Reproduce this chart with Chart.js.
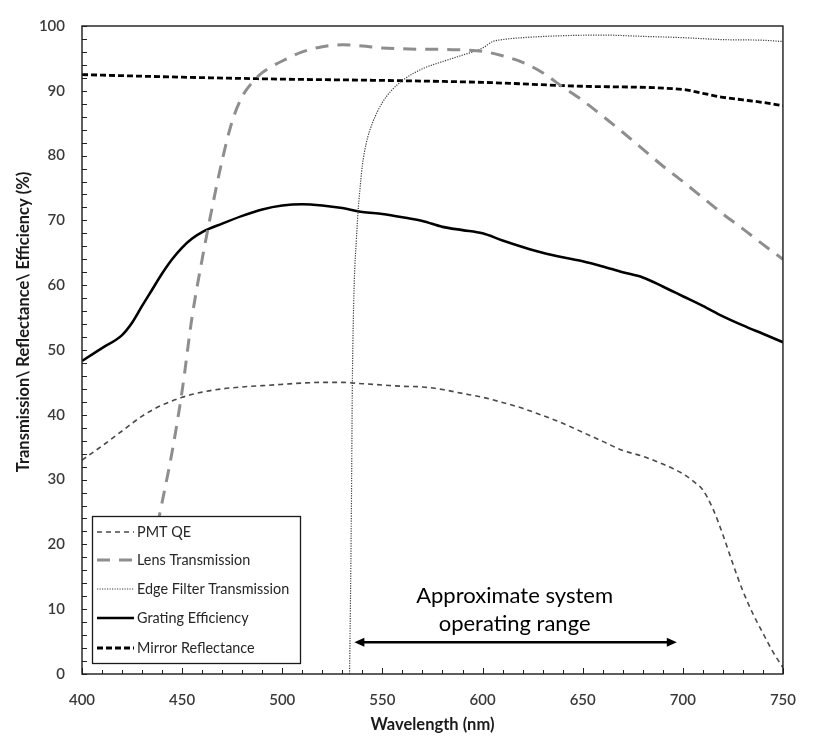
<!DOCTYPE html>
<html><head><meta charset="utf-8">
<script src="https://cdn.jsdelivr.net/npm/chart.js@4/dist/chart.umd.min.js"></script>
<style>html,body{margin:0;padding:0;background:#fff}#wrap{width:813px;height:740px;position:relative}</style>
</head><body><div id="wrap"><canvas id="c" width="813" height="740"></canvas></div>
<script>
// ---------- DATA ----------
const seriesNames = ['PMT QE', 'Lens Transmission', 'Edge Filter Transmission', 'Grating Efficiency', 'Mirror Reflectance'];

const pmtWl = [400,410,420,430,440,450,460,470,480,490,500,510,520,530,540,550,560,570,580,590,600,610,620,630,640,650,660,670,680,690,700,705,710,715,720,725,730,735,740,745,750];
const pmtQE = [33,35.2,37.5,39.8,41.5,42.7,43.5,44,44.3,44.5,44.7,44.9,45,45,44.8,44.6,44.4,44.3,43.9,43.3,42.7,41.9,41,39.9,38.7,37.3,35.9,34.5,33.6,32.4,30.9,29.8,28.4,25.5,21.5,17,12.8,9.3,6.3,3.4,1.0];

const lensWl = [425,430,435,440,445,450,455,460,465,470,475,480,485,490,495,500,510,520,530,540,550,560,570,580,590,600,610,620,630,640,650,660,670,680,690,700,710,720,730,740,750];
const lensT  = [3,11.5,19,26.5,34.3,43.7,55.2,64,72,79.3,85.3,89.1,91.3,92.8,93.8,94.6,96,96.8,97.1,96.9,96.6,96.5,96.4,96.4,96.3,96.1,95.4,94.4,92.8,90.6,88.5,86.1,83.6,81,78.4,76,73.5,71,68.7,66.3,64];

const edgeWl = [533.6,534,534.5,535,535.5,536,537,538,539,540,542,545,550,555,560,570,580,590,600,605,610,620,640,660,680,700,720,740,750];
const edgeT  = [0,10,25,45,55,61,67,72,75.5,78.5,82,85,88.2,90.2,91.6,93.4,94.5,95.5,96.6,97.6,97.9,98.2,98.5,98.6,98.4,98.2,97.9,97.8,97.6];

const gratingWl  = [400,410,420,425,430,435,440,445,450,455,460,470,480,490,500,510,520,530,540,550,560,570,580,590,600,610,620,630,640,650,660,670,680,690,700,710,720,730,740,750];
const gratingEff = [48.3,50.3,52.3,54.2,56.8,59.3,61.8,64,65.8,67.2,68.2,69.5,70.7,71.7,72.3,72.5,72.3,71.9,71.3,71,70.5,69.9,69,68.5,68,66.9,65.9,65,64.3,63.7,62.9,62,61.2,59.8,58.3,56.8,55.2,53.8,52.5,51.2];

const mirrorWl = [400,450,500,550,600,650,700,710,720,730,740,750];
const mirrorR  = [92.5,92.1,91.8,91.6,91.3,90.7,90.2,89.6,89.0,88.6,88.2,87.7];

const xTickValues = [400,450,500,550,600,650,700,750];
const yTickValues = [0,10,20,30,40,50,60,70,80,90,100];

const xTitle = 'Wavelength (nm)';
const yTitle = 'Transmission\\ Reflectance\\ Efficiency (%)';
const noteLines = ['Approximate system', 'operating range'];
const rangeStart = 536, rangeEnd = 697;

// ---------- CHART ----------
const pts = (xs, ys) => xs.map((x, i) => ({x: x, y: ys[i]}));

const styles = [
  {borderColor:'#4a4a4a', borderWidth:1.6, borderDash:[5,4]},
  {borderColor:'#8e8e8e', borderWidth:3, borderDash:[13,9]},
  {borderColor:'#3c3c3c', borderWidth:1.2, borderDash:[1.2,1.3]},
  {borderColor:'#000000', borderWidth:2.6, borderDash:[]},
  {borderColor:'#000000', borderWidth:2.8, borderDash:[6,3]}
];
const dataPairs = [[pmtWl,pmtQE],[lensWl,lensT],[edgeWl,edgeT],[gratingWl,gratingEff],[mirrorWl,mirrorR]];

const datasets = dataPairs.map((p, i) => Object.assign({
  label: seriesNames[i],
  data: pts(p[0], p[1]),
  pointRadius: 0,
  fill: false,
  cubicInterpolationMode: 'monotone'
}, styles[i]));

const FONT = 'Lato, "Open Sans", sans-serif';

const decor = {
  id: 'decor',
  afterDatasetsDraw(chart) {
    const ctx = chart.ctx, a = chart.chartArea;
    const xs = chart.scales.x, ys = chart.scales.y;
    ctx.save();
    // ticks inward
    ctx.strokeStyle = '#222'; ctx.lineWidth = 1;
    ctx.beginPath();
    for (let v = xs.min; v <= xs.max; v += 10) {
      const px = Math.round(xs.getPixelForValue(v)) + 0.5;
      const len = (v % 50 === 0) ? 6 : 4;
      ctx.moveTo(px, a.bottom); ctx.lineTo(px, a.bottom - len);
    }
    for (let v = ys.min; v <= ys.max; v += 2) {
      const py = Math.round(ys.getPixelForValue(v)) + 0.5;
      ctx.moveTo(a.left, py); ctx.lineTo(a.left + 5, py);
    }
    ctx.stroke();
    // border
    ctx.lineWidth = 1.4; ctx.strokeStyle = '#1a1a1a';
    ctx.strokeRect(a.left, a.top, a.right - a.left, a.bottom - a.top);

    // annotation text
    ctx.fillStyle = '#000';
    ctx.font = '22px ' + FONT;
    ctx.textAlign = 'center'; ctx.textBaseline = 'middle';
    const cx = xs.getPixelForValue(616);
    ctx.fillText(noteLines[0], cx, ys.getPixelForValue(12.1));
    ctx.fillText(noteLines[1], cx, ys.getPixelForValue(7.8));
    // arrow
    const ay = ys.getPixelForValue(4.9);
    const x1 = xs.getPixelForValue(rangeStart), x2 = xs.getPixelForValue(rangeEnd);
    ctx.strokeStyle = '#000'; ctx.lineWidth = 2.5;
    ctx.beginPath(); ctx.moveTo(x1 + 8, ay); ctx.lineTo(x2 - 8, ay); ctx.stroke();
    ctx.beginPath();
    ctx.moveTo(x1, ay); ctx.lineTo(x1 + 10, ay - 4.5); ctx.lineTo(x1 + 10, ay + 4.5); ctx.closePath();
    ctx.moveTo(x2, ay); ctx.lineTo(x2 - 10, ay - 4.5); ctx.lineTo(x2 - 10, ay + 4.5); ctx.closePath();
    ctx.fill();

    // legend
    const lx = a.left + 10, ly = 516, lw = 208, lh = 147;
    ctx.fillStyle = '#fff';
    ctx.fillRect(lx, ly, lw, lh);
    ctx.lineWidth = 1.3; ctx.strokeStyle = '#1a1a1a';
    ctx.strokeRect(lx + 0.5, ly + 0.5, lw, lh);
    const rows = [532, 560, 589, 618, 648];
    ctx.font = '14.4px ' + FONT;
    ctx.textAlign = 'left'; ctx.textBaseline = 'middle';
    chart.data.datasets.forEach((ds, i) => {
      const y = rows[i];
      ctx.save();
      ctx.strokeStyle = ds.borderColor; ctx.lineWidth = ds.borderWidth;
      ctx.setLineDash(ds.borderDash || []);
      ctx.beginPath(); ctx.moveTo(lx + 5, y); ctx.lineTo(lx + 42, y); ctx.stroke();
      ctx.restore();
      ctx.fillStyle = '#262626';
      ctx.fillText(ds.label, lx + 45, y);
    });
    ctx.restore();
  },
  afterDraw(chart) {
    const ctx = chart.ctx, a = chart.chartArea;
    ctx.save();
    ctx.fillStyle = '#1a1a1a';
    ctx.font = 'bold 16.5px ' + FONT;
    ctx.textAlign = 'center'; ctx.textBaseline = 'middle';
    ctx.fillText(xTitle, (a.left + a.right) / 2, 725);
    ctx.translate(24, 322);
    ctx.rotate(-Math.PI / 2);
    ctx.fillText(yTitle, 0, 0);
    ctx.restore();
  }
};

new Chart(document.getElementById('c'), {
  type: 'line',
  data: { datasets: datasets },
  options: {
    responsive: false,
    devicePixelRatio: 1,
    animation: false,
    events: [],
    layout: { padding: { top: 17, right: 15, left: 0, bottom: 0 } },
    plugins: { legend: { display: false }, tooltip: { enabled: false } },
    scales: {
      x: {
        type: 'linear', min: 400, max: 750,
        afterFit: s => { s.height = 66; },
        afterBuildTicks: s => { s.ticks = xTickValues.map(v => ({value: v})); },
        grid: { display: false, drawTicks: false },
        border: { display: false },
        ticks: { color: '#3a3a3a', font: { family: FONT, size: 15, weight: '600' }, padding: 17, maxRotation: 0 }
      },
      y: {
        type: 'linear', min: 0, max: 100,
        afterFit: s => { s.width = 82; },
        afterBuildTicks: s => { s.ticks = yTickValues.map(v => ({value: v})); },
        grid: { display: false, drawTicks: false },
        border: { display: false },
        ticks: { color: '#3a3a3a', font: { family: FONT, size: 15, weight: '600' }, padding: 17 }
      }
    }
  },
  plugins: [decor]
});
</script>
</body></html>
